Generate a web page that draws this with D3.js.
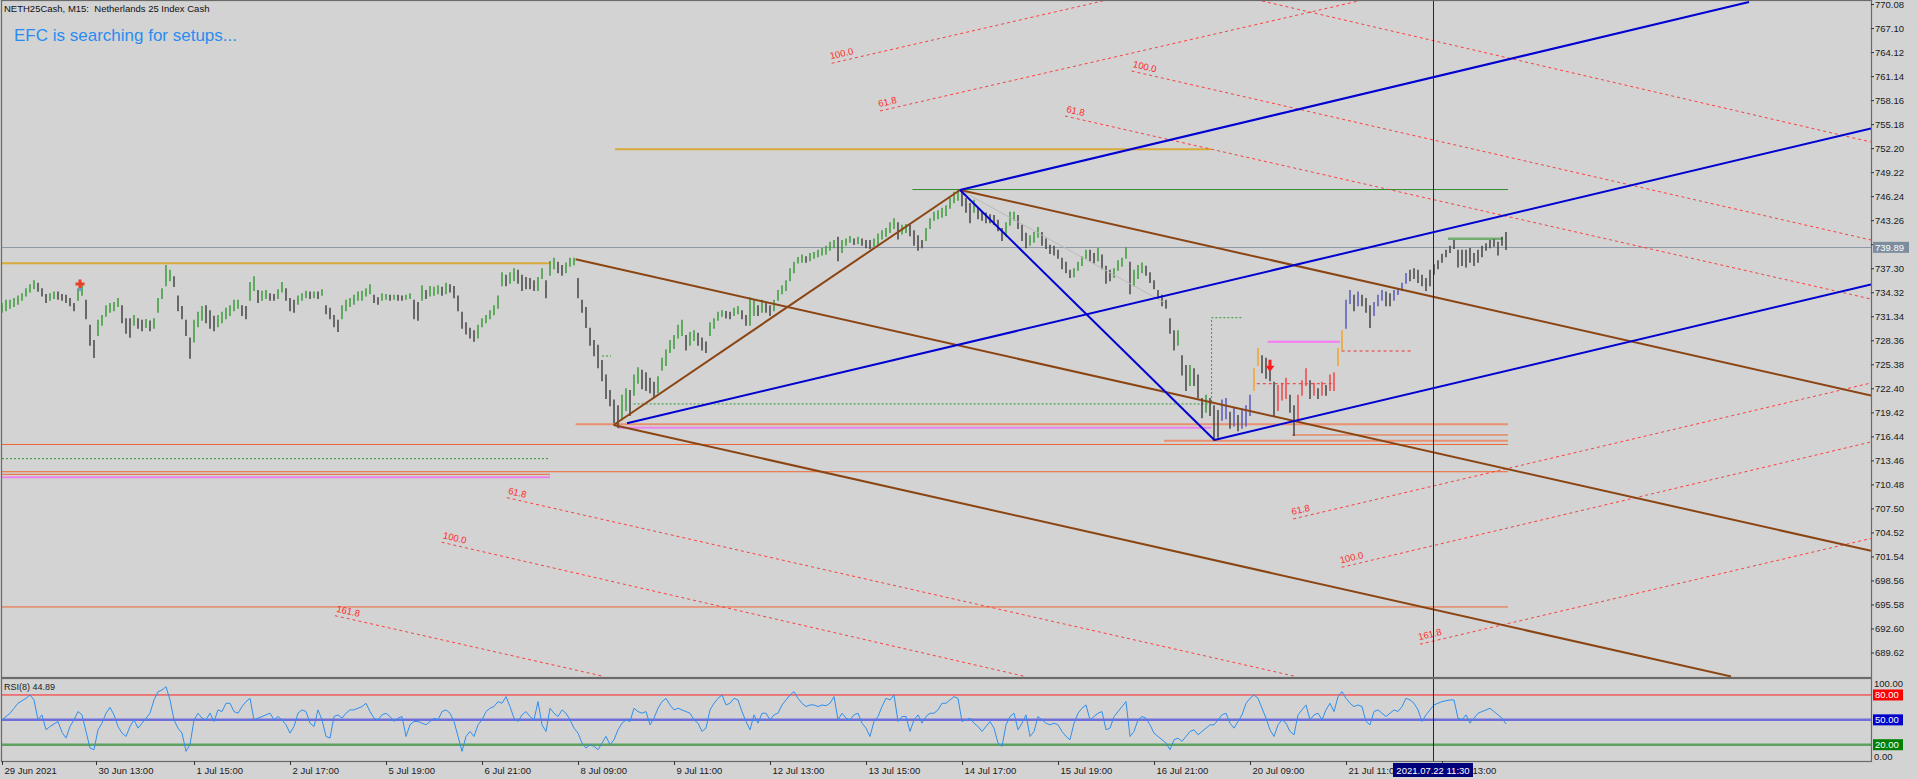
<!DOCTYPE html>
<html><head><meta charset="utf-8">
<script src="https://cdn.jsdelivr.net/npm/d3@7"></script>
<style>
html,body{margin:0;padding:0;background:#d3d3d3;overflow:hidden}
svg{display:block}
text{font-family:"Liberation Sans",Arial,sans-serif}
</style></head><body>
<svg id="c" width="1918" height="779"></svg>
<script>
// ---------- DATA ----------
const symbolTitle = "NETH25Cash, M15:  Netherlands 25 Index Cash";
const bannerText = "EFC is searching for setups...";
const rsiTitle = "RSI(8) 44.89";
const currentPrice = 739.89;
const crosshairIdx = 357.75;
const crosshairLabel = "2021.07.22 11:30";
const lastIdx = 467.25;

const priceTicks = [770.08,767.10,764.12,761.14,758.16,755.18,752.20,749.22,746.24,743.26,740.28,737.30,734.32,731.34,728.36,725.38,722.40,719.42,716.44,713.46,710.48,707.50,704.52,701.54,698.56,695.58,692.60,689.62];
const timeTickIdx = [0,23.5,48,72,96,120,144,168,192,216,240,264,288,312,336,360];
const timeLabels = ["29 Jun 2021","30 Jun 13:00","1 Jul 15:00","2 Jul 17:00","5 Jul 19:00","6 Jul 21:00","8 Jul 09:00","9 Jul 11:00","12 Jul 13:00","13 Jul 15:00","14 Jul 17:00","15 Jul 19:00","16 Jul 21:00","20 Jul 09:00","21 Jul 11:00","22 Jul 13:00"];

// bar highs / lows (one bar per two M15 candles)
const highs = [
733.0,733.4,733.4,733.6,733.9,734.2,734.8,735.3,735.8,735.5,
734.8,734.1,734.2,734.4,734.4,734.1,734.0,733.6,733.0,734.8,
735.2,733.4,730.3,728.4,730.9,731.5,732.7,733.0,733.1,733.6,
732.7,731.1,731.1,731.5,731.1,730.9,731.0,730.8,731.1,733.6,
734.8,737.7,737.1,736.3,733.9,732.6,730.9,728.7,730.9,731.9,
732.6,732.7,732.1,731.4,731.5,731.9,732.4,732.7,733.4,733.4,
732.7,732.6,735.6,736.3,734.6,734.5,734.6,734.2,734.1,734.7,
735.6,734.8,733.6,733.4,733.9,734.2,734.5,734.4,734.4,734.4,
734.7,732.7,732.4,731.5,730.9,732.7,733.4,733.6,734.0,734.4,
734.5,734.8,735.3,734.0,733.7,734.2,734.1,734.0,734.0,734.0,
733.9,734.0,734.2,733.4,733.1,735.2,734.6,735.1,735.0,735.2,
735.0,735.5,735.3,735.1,733.9,731.9,730.6,729.9,729.6,730.3,
731.1,731.5,732.1,732.7,733.9,736.8,736.5,736.8,737.3,737.1,
736.5,736.2,736.1,735.8,736.2,737.3,735.8,738.2,738.6,738.1,
737.7,738.0,738.6,738.6,736.1,733.4,732.5,729.9,728.4,727.8,
725.9,724.1,722.2,721.0,720.3,721.6,722.4,722.2,724.1,725.0,
724.7,724.4,723.7,723.2,723.9,726.2,727.2,728.4,729.0,730.3,
730.9,729.0,729.4,729.6,729.3,728.7,728.2,730.6,731.1,731.9,
732.1,732.0,731.9,732.4,732.6,732.1,731.5,733.7,733.4,732.7,
733.4,733.1,732.7,733.4,734.6,735.2,735.8,737.3,738.1,738.7,
739.0,738.8,739.2,739.3,739.6,739.8,740.1,740.6,740.8,741.2,
740.8,741.0,741.3,741.0,741.2,741.0,740.8,740.8,741.0,741.6,
742.0,742.3,743.0,743.5,743.0,742.7,742.8,742.7,742.0,741.4,
740.8,742.3,743.5,744.3,744.5,744.8,745.1,746.0,746.8,747.0,
746.8,746.0,745.4,745.8,744.8,744.3,744.2,744.0,743.9,743.3,
742.3,743.0,744.3,744.3,743.9,742.7,741.7,741.4,741.8,742.4,
741.8,741.0,740.2,740.1,739.6,738.6,738.1,737.1,737.3,738.1,
738.8,739.6,739.6,739.2,739.8,739.0,737.6,737.1,737.3,738.3,
738.6,739.9,738.1,737.1,737.7,738.0,737.6,736.8,735.8,734.6,
734.0,733.4,731.1,729.6,729.6,726.5,725.3,725.3,724.9,724.1,
721.2,721.6,721.2,720.3,719.7,721.0,721.2,719.5,720.0,719.1,
719.7,720.3,721.6,724.9,727.4,726.5,726.2,725.7,723.2,722.8,
723.1,723.7,721.6,720.3,721.6,723.4,724.9,723.4,723.1,722.4,
723.2,722.8,724.1,724.4,727.4,729.6,733.4,734.6,734.0,734.4,
734.0,733.6,732.7,733.1,734.0,734.6,734.4,734.2,734.6,734.8,
735.5,736.7,737.1,737.3,737.1,736.5,736.1,737.1,737.8,738.3,
739.1,739.6,740.1,740.8,739.6,739.6,739.6,739.8,739.2,739.6,
740.1,740.4,740.8,740.9,740.6,741.2,741.8];
const lows = [
731.9,732.1,732.4,732.6,732.9,733.4,733.9,734.4,734.8,734.5,
733.9,733.1,733.4,733.6,733.5,733.4,733.1,732.7,732.1,733.4,
734.0,731.1,727.8,726.3,729.0,730.3,731.4,731.9,732.1,732.6,
730.6,729.3,728.8,730.3,729.9,729.6,730.0,729.6,729.9,731.9,
733.6,735.2,735.8,735.1,732.1,731.1,729.0,726.2,728.2,730.1,
730.9,730.6,729.9,729.6,730.1,730.6,731.1,731.5,732.1,732.4,
731.5,731.1,733.4,734.6,733.1,733.4,733.6,733.4,733.4,733.6,
734.4,733.4,732.1,731.9,732.9,733.4,733.7,733.6,733.7,733.6,
734.0,731.7,731.1,730.1,729.5,731.1,732.1,732.6,732.9,733.4,
733.4,733.9,734.2,733.1,732.9,733.4,733.5,733.4,733.5,733.4,
733.4,733.5,733.6,731.1,730.9,733.4,733.6,733.9,734.0,734.2,
734.0,734.2,734.4,733.7,732.1,729.9,729.2,728.7,728.3,728.7,
730.1,730.6,731.1,731.6,732.4,735.2,735.2,735.5,735.8,735.5,
734.6,734.8,734.8,734.6,734.6,736.1,733.7,736.5,737.3,736.8,
736.5,736.8,737.6,737.8,733.7,731.9,730.0,727.8,726.5,725.0,
723.4,721.2,720.3,718.2,717.6,718.7,719.7,719.1,721.6,723.1,
722.4,722.2,721.9,721.3,721.9,724.7,725.3,726.9,727.4,728.7,
729.0,727.2,727.8,728.4,727.8,727.2,726.9,729.0,729.9,730.9,
731.4,731.2,731.1,731.5,731.7,731.1,730.3,730.3,731.5,731.5,
731.9,731.9,731.5,732.1,733.4,734.2,734.6,735.8,736.8,738.0,
738.1,738.1,738.3,738.6,738.8,739.0,739.1,739.6,739.9,738.3,
739.3,740.2,740.6,740.3,740.4,740.2,739.9,739.8,740.1,740.3,
741.0,741.3,741.8,742.3,741.0,741.6,741.8,741.4,740.2,739.6,
739.9,740.8,742.3,743.3,743.5,743.7,743.9,744.8,745.5,745.8,
745.1,744.3,743.0,744.3,743.5,743.3,743.0,743.0,742.8,742.0,
740.8,741.4,742.7,743.3,742.3,740.8,739.9,740.2,740.6,741.2,
740.2,739.8,739.2,739.0,738.6,737.3,736.8,736.2,736.3,737.1,
737.7,738.6,738.3,738.0,738.3,737.3,735.5,735.8,736.2,737.1,
737.6,738.6,734.2,735.2,736.1,736.8,736.5,735.6,734.8,733.6,
732.7,732.4,729.3,727.2,727.8,724.1,722.2,722.8,722.8,721.3,
718.8,719.5,719.1,716.0,716.4,718.5,718.7,717.5,717.8,717.2,
717.5,717.8,719.1,722.2,725.3,724.4,723.7,723.4,719.1,719.7,
721.0,721.2,719.5,716.6,718.5,721.6,722.8,721.2,721.6,721.2,
721.6,721.6,722.2,722.2,725.3,727.2,729.9,733.0,732.1,732.7,
732.7,731.9,730.0,731.5,732.7,733.4,732.7,732.7,733.4,734.1,
734.6,735.5,735.8,736.1,735.6,735.2,734.6,735.2,736.6,737.3,
738.1,738.8,739.3,739.8,737.5,737.7,737.5,738.1,737.7,738.1,
738.8,739.6,739.9,740.1,739.0,740.2,739.7];

// RSI(8) value for each bar
const rsi = [
50,54,58,64,70,73,76,80,74,50, 56,38,42,45,48,35,28,42,50,60,
56,36,16,14,38,46,58,65,56,42, 34,30,42,50,40,46,52,58,74,84,
86,90,74,50,40,34,12,20,50,58, 52,50,58,48,62,60,70,70,60,58,
66,72,76,50,52,54,56,58,50,54, 50,44,34,42,58,62,60,46,42,62,
50,30,28,54,56,52,58,62,62,64, 66,70,60,52,50,56,58,54,48,52,
54,30,44,48,48,46,44,48,52,50, 60,62,58,48,30,12,30,36,30,44,
50,60,64,66,72,70,78,66,52,48, 56,60,54,50,72,44,36,64,58,54,
62,58,50,40,34,22,16,20,18,14, 22,30,20,26,38,46,50,48,64,60,
58,60,44,52,64,72,76,68,62,64, 62,60,58,50,46,36,40,62,70,76,
80,68,70,76,74,60,48,38,56,46, 58,58,50,56,58,68,74,80,84,76,
70,66,68,68,66,68,67,70,78,50, 58,52,50,56,58,46,40,30,48,54,
66,76,74,80,48,54,54,36,50,56, 46,54,58,58,62,70,70,74,78,76,
48,50,52,46,42,36,42,48,40,22, 18,44,54,58,38,46,56,30,36,54,
50,46,44,46,44,36,30,26,46,58, 64,68,50,54,58,60,38,40,54,60,
66,72,30,36,50,54,52,44,34,30, 26,22,14,26,28,24,30,36,38,32,
36,40,44,44,50,56,58,46,40,48, 56,70,76,80,76,64,52,38,30,44,
50,46,36,32,56,62,68,50,56,58, 50,62,70,60,78,84,76,70,66,68,
66,48,44,60,62,58,54,58,62,60, 66,76,74,70,62,48,56,62,68,70,
72,73,74,74,52,50,56,46,52,58, 60,62,64,60,56,52,45];
const rsiLevels = [80,50,20];

// indicator state ranges [fromBar, toBar, state]
const trendStates = [[0,145,'bull'],[146,150,'pull'],[151,153,'weak'],[154,154,'flat'],[155,302,'bull'],
  [303,312,'weak'],[313,314,'pull'],[315,316,'weak'],[317,333,'bear'],[334,335,'pull'],[336,351,'weak'],[352,376,'flat']];

// horizontal levels [fromBar, toBar, price, kind]
const hLevels = [
 [0,137.25,737.91,'gold'],[153.25,302.25,752.07,'gold'],[227.6,376.5,747.06,'green'],[361.5,375.25,740.96,'green2'],
 [143.4,376.5,717.94,'salmon'],[154,302.4,717.52,'violet'],[322.5,376.5,716.61,'orange'],[290.5,376.5,715.90,'salmon'],
 [0,376.5,715.43,'orange'],[0,376.5,712.05,'orange'],[0,137,711.73,'orange'],[0,137,711.36,'violet'],
 [0,137,713.67,'greenDot'],[0,376.5,695.27,'orange'],[150,152.25,726.41,'greenDot'],
 [334.9,352.75,727.03,'redDot'],[313.7,333.25,722.97,'redDot'],[316.4,334.5,728.19,'magenta']];
const greenStep = [[157.9,720.46],[302.4,720.46],[302.4,731.16],[310.25,731.16]];

// trend / channel lines [bar0, price0, bar1, price1, kind]
const trendLines = [
 [239.5,747.01,290.75,732.99,'zig'],
 [152.9,717.85,239.5,747.01,'brown'],[143.4,738.41,467.25,702.24,'brown'],[239.5,747.01,467.25,721.51,'brown'],[152.9,717.85,432.25,686.65,'brown'],
 [239.5,747.01,303.1,715.99,'blue'],[156.25,718.06,467.25,754.64,'blue'],[239.5,747.01,436.75,770.33,'blue'],[303.1,715.99,467.25,735.28,'blue']];

// fibonacci expansion lines [label, bar0, price0, bar1, price1]
const fibLines = [
 ['100.0',207.4,762.73,275.2,770.46],['61.8',219.5,756.81,339.2,770.46],
 ['100.0',282.4,761.77,467.25,740.80],['61.8',265.75,756.19,467.25,733.48],['',315,770.46,467.25,752.96],
 ['61.8',126.2,708.83,323.4,686.65],['100.0',109.9,703.30,255.75,686.65],['161.8',83.25,694.19,150.5,686.65],
 ['61.8',322.8,706.19,467.25,723.06],['100.0',334.9,700.19,467.25,715.74],['161.8',354.5,690.65,467.25,703.77]];

// signal markers [bar, price, type]
const markers = [[19.5,735.34,'cross'],[317,725.08,'down']];

// ---------- DRAW ----------
const W=1918,H=779, L=2, R=1871, MT=1, MB=677, RT=679, RB=761;
const svg=d3.select('#c');
svg.append('rect').attr('width',W).attr('height',H).attr('fill','#d3d3d3');

const x=d3.scaleLinear().domain([0,lastIdx]).range([L,R]);
const y=d3.scaleLinear().domain([689.62,770.08]).range([652.5,4.03]);
const yr=d3.scaleLinear().domain([0,100]).range([761.3,678.4]);

const defs=svg.append('defs');
defs.append('clipPath').attr('id','mclip').append('rect').attr('x',L).attr('y',MT).attr('width',R-L).attr('height',MB-MT);
defs.append('clipPath').attr('id','rclip').append('rect').attr('x',L).attr('y',RT).attr('width',R-L).attr('height',RB-RT);
defs.append('clipPath').attr('id','tclip').append('rect').attr('x',0).attr('y',RB).attr('width',W).attr('height',H-RB);

const gm=svg.append('g').attr('clip-path','url(#mclip)');

const hStyle={
 gold:{c:'#d9a21f',w:2,o:0.85},green:{c:'#2f8a2f',w:1,o:1},green2:{c:'#5aa55a',w:2.5,o:0.8},
 salmon:{c:'#f07a50',w:2,o:0.75},violet:{c:'#ee7aee',w:2,o:0.9},orange:{c:'#f05a20',w:1,o:0.9},
 greenDot:{c:'#2e9a2e',w:1,o:1,d:'2,2'},redDot:{c:'#f03030',w:1,o:1,d:'3,3'},magenta:{c:'#ff6cff',w:2,o:0.9}};

// current price line
gm.append('line').attr('x1',x(0)).attr('x2',x(lastIdx)).attr('y1',y(currentPrice)).attr('y2',y(currentPrice))
  .attr('stroke','#8d99a6').attr('stroke-width',1).attr('shape-rendering','crispEdges');

gm.append('g').selectAll('line').data(hLevels).join('line')
  .attr('x1',d=>x(d[0])).attr('x2',d=>x(d[1])).attr('y1',d=>y(d[2])).attr('y2',d=>y(d[2]))
  .attr('stroke',d=>hStyle[d[3]].c).attr('stroke-width',d=>hStyle[d[3]].w).attr('stroke-opacity',d=>hStyle[d[3]].o)
  .attr('stroke-dasharray',d=>hStyle[d[3]].d||null);

gm.append('path').datum(greenStep).attr('d',d3.line().x(d=>x(d[0])).y(d=>y(d[1])))
  .attr('fill','none').attr('stroke','#2e9a2e').attr('stroke-width',1).attr('stroke-dasharray','2,2');

// fib lines
const gf=gm.append('g');
fibLines.forEach(f=>{
  const x0=x(f[1]),y0=y(f[2]),x1=x(f[3]),y1=y(f[4]);
  gf.append('line').attr('x1',x0).attr('y1',y0).attr('x2',x1).attr('y2',y1)
    .attr('stroke','#ff3030').attr('stroke-width',1).attr('stroke-dasharray','3,3').attr('stroke-opacity',0.9);
  if(f[0]){
    const ang=Math.atan2(y1-y0,x1-x0)*180/Math.PI;
    gf.append('text').attr('transform',`translate(${x0},${y0}) rotate(${ang})`).attr('dy',-4)
      .attr('font-size',9.5).attr('fill','#ff2a2a').text(f[0]);
  }
});

// bars
const stateColor={bull:'#3a9c3a',weak:'#5858b8',bear:'#f04444',pull:'#f0a428',flat:'#3a3a3a'};
const stateOf=i=>{for(const s of trendStates){if(i>=s[0]&&i<=s[1])return s[2];}return 'flat';};
const n=Math.min(highs.length,lows.length);
gm.append('g').selectAll('line').data(d3.range(n)).join('line')
  .attr('x1',i=>x(i)).attr('x2',i=>x(i)).attr('y1',i=>y(highs[i])).attr('y2',i=>y(lows[i])+1)
  .attr('stroke',i=>{const s=stateOf(i);const mid=(highs[i]+lows[i])/2;const pm=i>0?(highs[i-1]+lows[i-1])/2:mid;
      return (s==='flat'||mid<pm)?'#454545':stateColor[s];})
  .attr('stroke-width',1.5);

// trend lines
const tStyle={brown:{c:'#8b4513',w:2},blue:{c:'#0000d0',w:2},zig:{c:'#b9b9b9',w:1}};
gm.append('g').selectAll('line').data(trendLines).join('line')
  .attr('x1',d=>x(d[0])).attr('y1',d=>y(d[1])).attr('x2',d=>x(d[2])).attr('y2',d=>y(d[3]))
  .attr('stroke',d=>tStyle[d[4]].c).attr('stroke-width',d=>tStyle[d[4]].w);

// markers
markers.forEach(m=>{
  const mx=x(m[0]),my=y(m[1]);
  if(m[2]==='cross'){
    gm.append('path').attr('transform',`translate(${mx},${my})`).attr('d',d3.symbol(d3.symbolCross).size(45)())
      .attr('fill','#e8402a');
    gm.append('rect').attr('x',mx-1.5).attr('y',my+4).attr('width',3).attr('height',3).attr('fill','#6aa0d8');
  } else {
    gm.append('path').attr('transform',`translate(${mx},${my})`)
      .attr('d','M-1.5,-7 L1.5,-7 L1.5,-1 L4.5,-1 L0,5 L-4.5,-1 L-1.5,-1 Z').attr('fill','#ff1a1a');
  }
});

// RSI panel
const gr=svg.append('g').attr('clip-path','url(#rclip)');
const lvlStyle={80:{c:'#ff2020',w:1,o:1},50:{c:'#4444dd',w:2.5,o:0.7},20:{c:'#2e8b2e',w:2.5,o:0.7}};
gr.selectAll('line.lvl').data(rsiLevels).join('line').attr('class','lvl')
  .attr('x1',L).attr('x2',R).attr('y1',d=>yr(d)).attr('y2',d=>yr(d))
  .attr('stroke',d=>lvlStyle[d].c).attr('stroke-width',d=>lvlStyle[d].w).attr('stroke-opacity',d=>lvlStyle[d].o);
gr.append('path').datum(rsi).attr('d',d3.line().x((d,i)=>x(i)).y(d=>yr(d)))
  .attr('fill','none').attr('stroke','#2f8fef').attr('stroke-width',1);

// crosshair
svg.append('line').attr('x1',x(crosshairIdx)).attr('x2',x(crosshairIdx)).attr('y1',MT).attr('y2',RB)
  .attr('stroke','#1a1a8a').attr('stroke-width',1).attr('shape-rendering','crispEdges');

// frames
svg.append('rect').attr('x',L-0.5).attr('y',MT-0.5).attr('width',R-L+1).attr('height',MB-MT+1)
  .attr('fill','none').attr('stroke','#6a6a6a').attr('stroke-width',1.2);
svg.append('rect').attr('x',L-0.5).attr('y',RT-0.5).attr('width',R-L+1).attr('height',RB-RT+1)
  .attr('fill','none').attr('stroke','#6a6a6a').attr('stroke-width',1.2);

// price axis
const ya=svg.append('g').attr('transform',`translate(${R},0)`)
  .call(d3.axisRight(y).tickValues(priceTicks).tickFormat(d3.format('.2f')).tickSize(3).tickPadding(1));
ya.select('.domain').remove();
ya.selectAll('line').attr('stroke','#333');
ya.selectAll('text').attr('font-size',9.5).attr('fill','#1a1a1a').attr('font-family','"Liberation Sans",Arial,sans-serif');

// current price box
svg.append('rect').attr('x',R+2).attr('y',y(currentPrice)-5.5).attr('width',36).attr('height',11).attr('fill','#7d8d9d');
svg.append('text').attr('x',R+4).attr('y',y(currentPrice)+3.5).attr('font-size',9.5).attr('fill','#fff').text(d3.format('.2f')(currentPrice));

// RSI axis labels
const rsiBox={80:'#ff0000',50:'#0000cc',20:'#008000'};
rsiLevels.forEach(v=>{
  svg.append('rect').attr('x',R+2).attr('y',yr(v)-5.5).attr('width',30).attr('height',11).attr('fill',rsiBox[v]);
  svg.append('text').attr('x',R+4).attr('y',yr(v)+3.5).attr('font-size',9.5).attr('fill','#fff').text(d3.format('.2f')(v));
});
svg.append('text').attr('x',R+3).attr('y',yr(100)+9).attr('font-size',9.5).attr('fill','#1a1a1a').text('100.00');
svg.append('text').attr('x',R+3).attr('y',yr(0)-1).attr('font-size',9.5).attr('fill','#1a1a1a').text('0.00');
svg.append('text').attr('x',4).attr('y',RT+11).attr('font-size',9).attr('fill','#1a1a1a').text(rsiTitle);

// time axis
const xa=svg.append('g').attr('transform',`translate(0,${RB})`)
  .call(d3.axisBottom(x).tickValues(timeTickIdx).tickFormat((d,k)=>timeLabels[k]).tickSize(4).tickPadding(2));
xa.select('.domain').remove();
xa.selectAll('line').attr('stroke','#333');
xa.selectAll('text').attr('text-anchor','start').attr('dx',2).attr('font-size',9.5).attr('fill','#1a1a1a')
  .attr('font-family','"Liberation Sans",Arial,sans-serif');

// crosshair time label
const cx=x(crosshairIdx);
svg.append('rect').attr('x',cx-40).attr('y',763).attr('width',80).attr('height',14).attr('fill','#00007a');
svg.append('text').attr('x',cx).attr('y',774).attr('text-anchor','middle').attr('font-size',9.5).attr('fill','#fff').text(crosshairLabel);

// titles
svg.append('text').attr('x',4).attr('y',12).attr('font-size',9.5).attr('fill','#111').style('white-space','pre').text(symbolTitle);
svg.append('text').attr('x',14).attr('y',41).attr('font-size',17).attr('fill','#2a8cf0').text(bannerText);
</script>
</body></html>
